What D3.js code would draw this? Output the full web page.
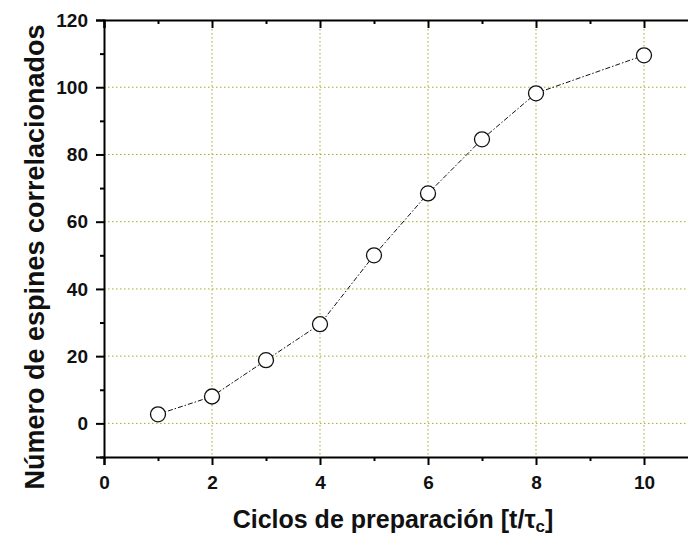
<!DOCTYPE html>
<html>
<head>
<meta charset="utf-8">
<script src="https://cdn.jsdelivr.net/npm/d3@7"></script>
<style>
  body { margin: 0; background: #fff; }
  text { font-family: "Liberation Sans", Arial, sans-serif; font-weight: bold; }
</style>
</head>
<body>
<svg id="chart" width="688" height="536"></svg>
<script>
var ciclos = [1, 2, 3, 4, 5, 6, 7, 8, 10];
var espines = [2.7, 8.0, 18.8, 29.5, 50.0, 68.4, 84.5, 98.2, 109.5];
var xTicks = [0, 2, 4, 6, 8, 10];
var yTicks = [0, 20, 40, 60, 80, 100, 120];

var svg = d3.select("#chart");
var mLeft = 104, mRight = 698, mTop = 20, mBottom = 457;

var x = d3.scaleLinear().domain([0, 11]).range([mLeft, mRight]);
var y = d3.scaleLinear().domain([-10, 120]).range([mBottom, mTop]);

var data = ciclos.map(function (c, i) { return { x: c, y: espines[i] }; });

// grid
var grid = svg.append("g")
  .attr("stroke", "#a8a828")
  .attr("stroke-width", 1)
  .attr("stroke-dasharray", "1.5,2.5");
grid.selectAll(".gx")
  .data(xTicks.filter(function (d) { return d > 0; }))
  .enter().append("line")
  .attr("x1", function (d) { return x(d); })
  .attr("x2", function (d) { return x(d); })
  .attr("y1", mTop + 9)
  .attr("y2", mBottom);
grid.selectAll(".gy")
  .data(yTicks.filter(function (d) { return d < 120; }))
  .enter().append("line")
  .attr("x1", mLeft)
  .attr("x2", 688)
  .attr("y1", function (d) { return y(d); })
  .attr("y2", function (d) { return y(d); });

// axes
var xAxis = d3.axisBottom(x).tickValues(d3.range(0, 11, 1))
  .tickSize(8).tickFormat(function (d) { return d % 2 === 0 ? d : ""; });
var gx = svg.append("g").attr("transform", "translate(0," + mBottom + ")").call(xAxis);

var yAxis = d3.axisLeft(y).tickValues(d3.range(-10, 121, 10))
  .tickSize(8).tickFormat(function (d) { return d % 20 === 0 ? d : ""; });
var gy = svg.append("g").attr("transform", "translate(" + mLeft + ",0)").call(yAxis);

var xTop = d3.axisBottom(x).tickValues(d3.range(0, 11, 1))
  .tickSize(8).tickFormat("");
var gt = svg.append("g").attr("transform", "translate(0," + mTop + ")").call(xTop);

[gx, gy, gt].forEach(function (g) {
  g.select(".domain").attr("stroke", "#000").attr("stroke-width", 2);
  g.selectAll(".tick line").attr("stroke", "#000").attr("stroke-width", 2);
  g.selectAll(".tick text").attr("fill", "#111").style("font-size", "19px")
    .style("font-family", "Liberation Sans, Arial, sans-serif").style("font-weight", "bold");
});
gx.selectAll(".tick line").attr("y2", function (d) { return d % 2 === 0 ? 8 : 4; });
gx.selectAll(".tick text").attr("y", 19);
gy.selectAll(".tick line").attr("x2", function (d) { return d % 20 === 0 ? -8 : -4; });
gy.selectAll(".tick text").attr("x", -16);
gt.selectAll(".tick line").attr("y2", function (d) { return d % 2 === 0 ? 8 : 4; });

// line
var line = d3.line().x(function (d) { return x(d.x); }).y(function (d) { return y(d.y); });
svg.append("path")
  .datum(data)
  .attr("fill", "none")
  .attr("stroke", "#111")
  .attr("stroke-width", 1)
  .attr("stroke-dasharray", "5,2,1.5,2")
  .attr("d", line);

svg.selectAll(".pt")
  .data(data)
  .enter().append("circle")
  .attr("cx", function (d) { return x(d.x); })
  .attr("cy", function (d) { return y(d.y); })
  .attr("r", 7.5)
  .attr("fill", "#fff")
  .attr("stroke", "#111")
  .attr("stroke-width", 1.3);

// titles
svg.append("text")
  .attr("transform", "translate(44,257) rotate(-90)")
  .attr("text-anchor", "middle")
  .style("font-size", "27px")
  .attr("fill", "#111")
  .text("Número de espines correlacionados");

var xt = svg.append("text")
  .attr("x", 393)
  .attr("y", 528)
  .attr("text-anchor", "middle")
  .style("font-size", "25px")
  .attr("fill", "#111");
xt.append("tspan").text("Ciclos de preparación [t/τ");
xt.append("tspan").attr("dy", 4).style("font-size", "17px").text("c");
xt.append("tspan").attr("dy", -4).text("]");
</script>
</body>
</html>
